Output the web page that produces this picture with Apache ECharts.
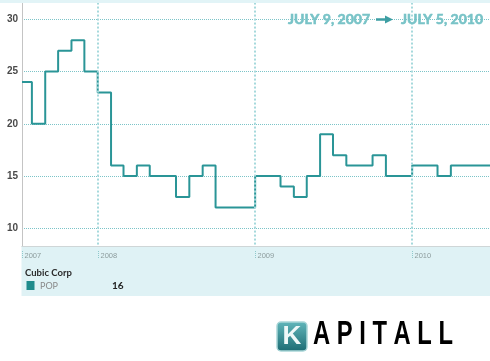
<!DOCTYPE html>
<html><head><meta charset="utf-8">
<script src="https://cdn.jsdelivr.net/npm/echarts@6/dist/echarts.min.js"></script>
<style>html,body{margin:0;padding:0;background:#fff}#c{width:490px;height:361px}</style>
</head><body><div id="c"></div>
<script>
// ---- data ----
const dates = ['2007-07-09','2007-08-01','2007-09-01','2007-10-01','2007-11-01','2007-12-01',
  '2008-01-01','2008-02-01','2008-03-01','2008-04-01','2008-05-01','2008-06-01',
  '2008-07-01','2008-08-01','2008-09-01','2008-10-01','2008-11-01','2008-12-01',
  '2009-01-01','2009-02-01','2009-03-01','2009-04-01','2009-05-01','2009-06-01',
  '2009-07-01','2009-08-01','2009-09-01','2009-10-01','2009-11-01','2009-12-01',
  '2010-01-01','2010-02-01','2010-03-01','2010-04-01','2010-05-01','2010-06-01',
  '2010-07-01','2010-07-05'];
const popValues = [24,20,25,27,28,25,
  23,16,15,16,15,15,
  13,15,16,12,12,12,
  15,15,14,13,15,19,
  17,16,16,17,15,15,
  16,16,15,16,16,16,
  16,16];
const yearTickDates = ['2007-07-09','2008-01-01','2009-01-01','2010-01-01'];
const yearTickLabels = ['2007','2008','2009','2010'];
const rangeStart = '2007-07-09';
const rangeEnd = '2010-07-01';
const companyName = 'Cubic Corp';
const seriesName = 'POP';
const lastValue = '16';
const titleFrom = 'JULY 9, 2007';
const titleTo = 'JULY 5, 2010';
const logoInitial = 'K';
const logoRest = ['A','P','I','T','A','L','L'];

// ---- chart ----
const TEAL = '#2a9597';
const chart = echarts.init(document.getElementById('c'), null, {renderer:'canvas'});
chart.setOption({
  animation:false,
  grid:{left:22,right:0,top:0,bottom:80.45},
  xAxis:{type:'time',min:rangeStart,max:rangeEnd,show:false,splitLine:{show:false}},
  yAxis:{type:'value',min:5,max:31.85,interval:5,
    axisLine:{show:true,lineStyle:{color:'#c4c4c4',width:1}},
    axisTick:{show:false},
    axisLabel:{margin:4,color:'#4a4a4a',fontWeight:'bold',fontSize:10,fontFamily:'Liberation Sans',
      formatter:v=>(v===5||v%5!==0)?'':String(v)},
    splitLine:{lineStyle:{color:'#7cc4c8',type:'dotted',width:1}}},
  series:[{type:'line',name:seriesName,step:'end',
    data:dates.map((d,i)=>[d,popValues[i]]),
    symbol:'none',showSymbol:false,
    lineStyle:{color:TEAL,width:2},
    markLine:{silent:true,symbol:'none',label:{show:false},
      lineStyle:{color:'#a6d9dc',type:'dotted',width:2},
      data:yearTickDates.slice(1).map(d=>({xAxis:d}))}}]
});

const g = [];
// top band
g.push({type:'rect',z:100,shape:{x:0,y:0,width:490,height:3},style:{fill:'#e2f4f7'}});
// bottom band
g.push({type:'rect',z:100,shape:{x:21.5,y:246,width:470,height:50},style:{fill:'#dff2f5'}});
g.push({type:'line',z:101,shape:{x1:21.5,y1:246.5,x2:490,y2:246.5},style:{stroke:'#cfd6d7',lineWidth:1}});
// year ticks / labels
yearTickDates.forEach((d,i)=>{
  const px = Math.round(chart.convertToPixel({xAxisIndex:0}, echarts.time.parse(d))) + 0.5;
  g.push({type:'line',z:101,shape:{x1:px,y1:251,x2:px,y2:259},style:{stroke:'#8fc9cc',lineWidth:1,lineDash:[1,1]}});
  g.push({type:'text',z:101,x:px+2,y:255.5,style:{text:yearTickLabels[i],fill:'#8d9c9d',fontSize:7.5,fontFamily:'Liberation Sans',textVerticalAlign:'middle'}});
});
// legend area
g.push({type:'text',z:101,x:25,y:272.5,style:{text:companyName,fill:'#2b2b2b',fontSize:9.5,fontWeight:700,fontFamily:'Lato',textVerticalAlign:'middle'}});
g.push({type:'rect',z:101,shape:{x:26.5,y:281,width:8,height:9},style:{fill:'#1f8b8c'}});
g.push({type:'text',z:101,x:40,y:286,style:{text:seriesName,fill:'#8a8a8a',fontSize:9,fontFamily:'Lato',textVerticalAlign:'middle'}});
g.push({type:'text',z:101,x:112,y:286,style:{text:lastValue,fill:'#222',fontSize:10,fontWeight:700,fontFamily:'Lato',textVerticalAlign:'middle'}});
// title
const titleStyle = {fill:'#78c3c7',stroke:'#78c3c7',lineWidth:0.6,fontSize:14,fontWeight:700,fontFamily:'Lato',textVerticalAlign:'middle'};
g.push({type:'text',z:101,x:288,y:19.5,style:Object.assign({text:titleFrom},titleStyle)});
g.push({type:'line',z:101,shape:{x1:376,y1:19.5,x2:387,y2:19.5},style:{stroke:'#3d9ea3',lineWidth:2.5}});
g.push({type:'polygon',z:101,shape:{points:[[385,15.5],[393,19.5],[385,23.5]]},style:{fill:'#3d9ea3'}});
g.push({type:'text',z:101,x:401,y:19.5,style:Object.assign({text:titleTo},titleStyle)});
// logo
g.push({type:'rect',z:101,shape:{x:277,y:322,width:30,height:29,r:4},
  style:{fill:new echarts.graphic.LinearGradient(0,0,0,1,[{offset:0,color:'#62b7bb'},{offset:1,color:'#1c6b73'}]),stroke:'#a9d6d8',lineWidth:1.5}});
g.push({type:'text',z:102,x:292,y:336.5,style:{text:logoInitial,fill:'#eef8f8',fontSize:26,fontWeight:700,fontFamily:'Liberation Sans',textAlign:'center',textVerticalAlign:'middle'}});
const letterX = [313,336.8,359.2,372.4,393.5,417.3,438.4];
const letterFill = new echarts.graphic.LinearGradient(0,0,0,1,[{offset:0,color:'#3e959b'},{offset:1,color:'#165860'}]);
logoRest.forEach((ch,i)=>{
  g.push({type:'text',z:101,x:letterX[i],y:335,scaleX:0.72,
    style:{text:ch,fill:letterFill,fontSize:33,fontWeight:700,fontFamily:'Liberation Sans',textVerticalAlign:'middle'}});
});
chart.setOption({graphic:g});
</script>
</body></html>
